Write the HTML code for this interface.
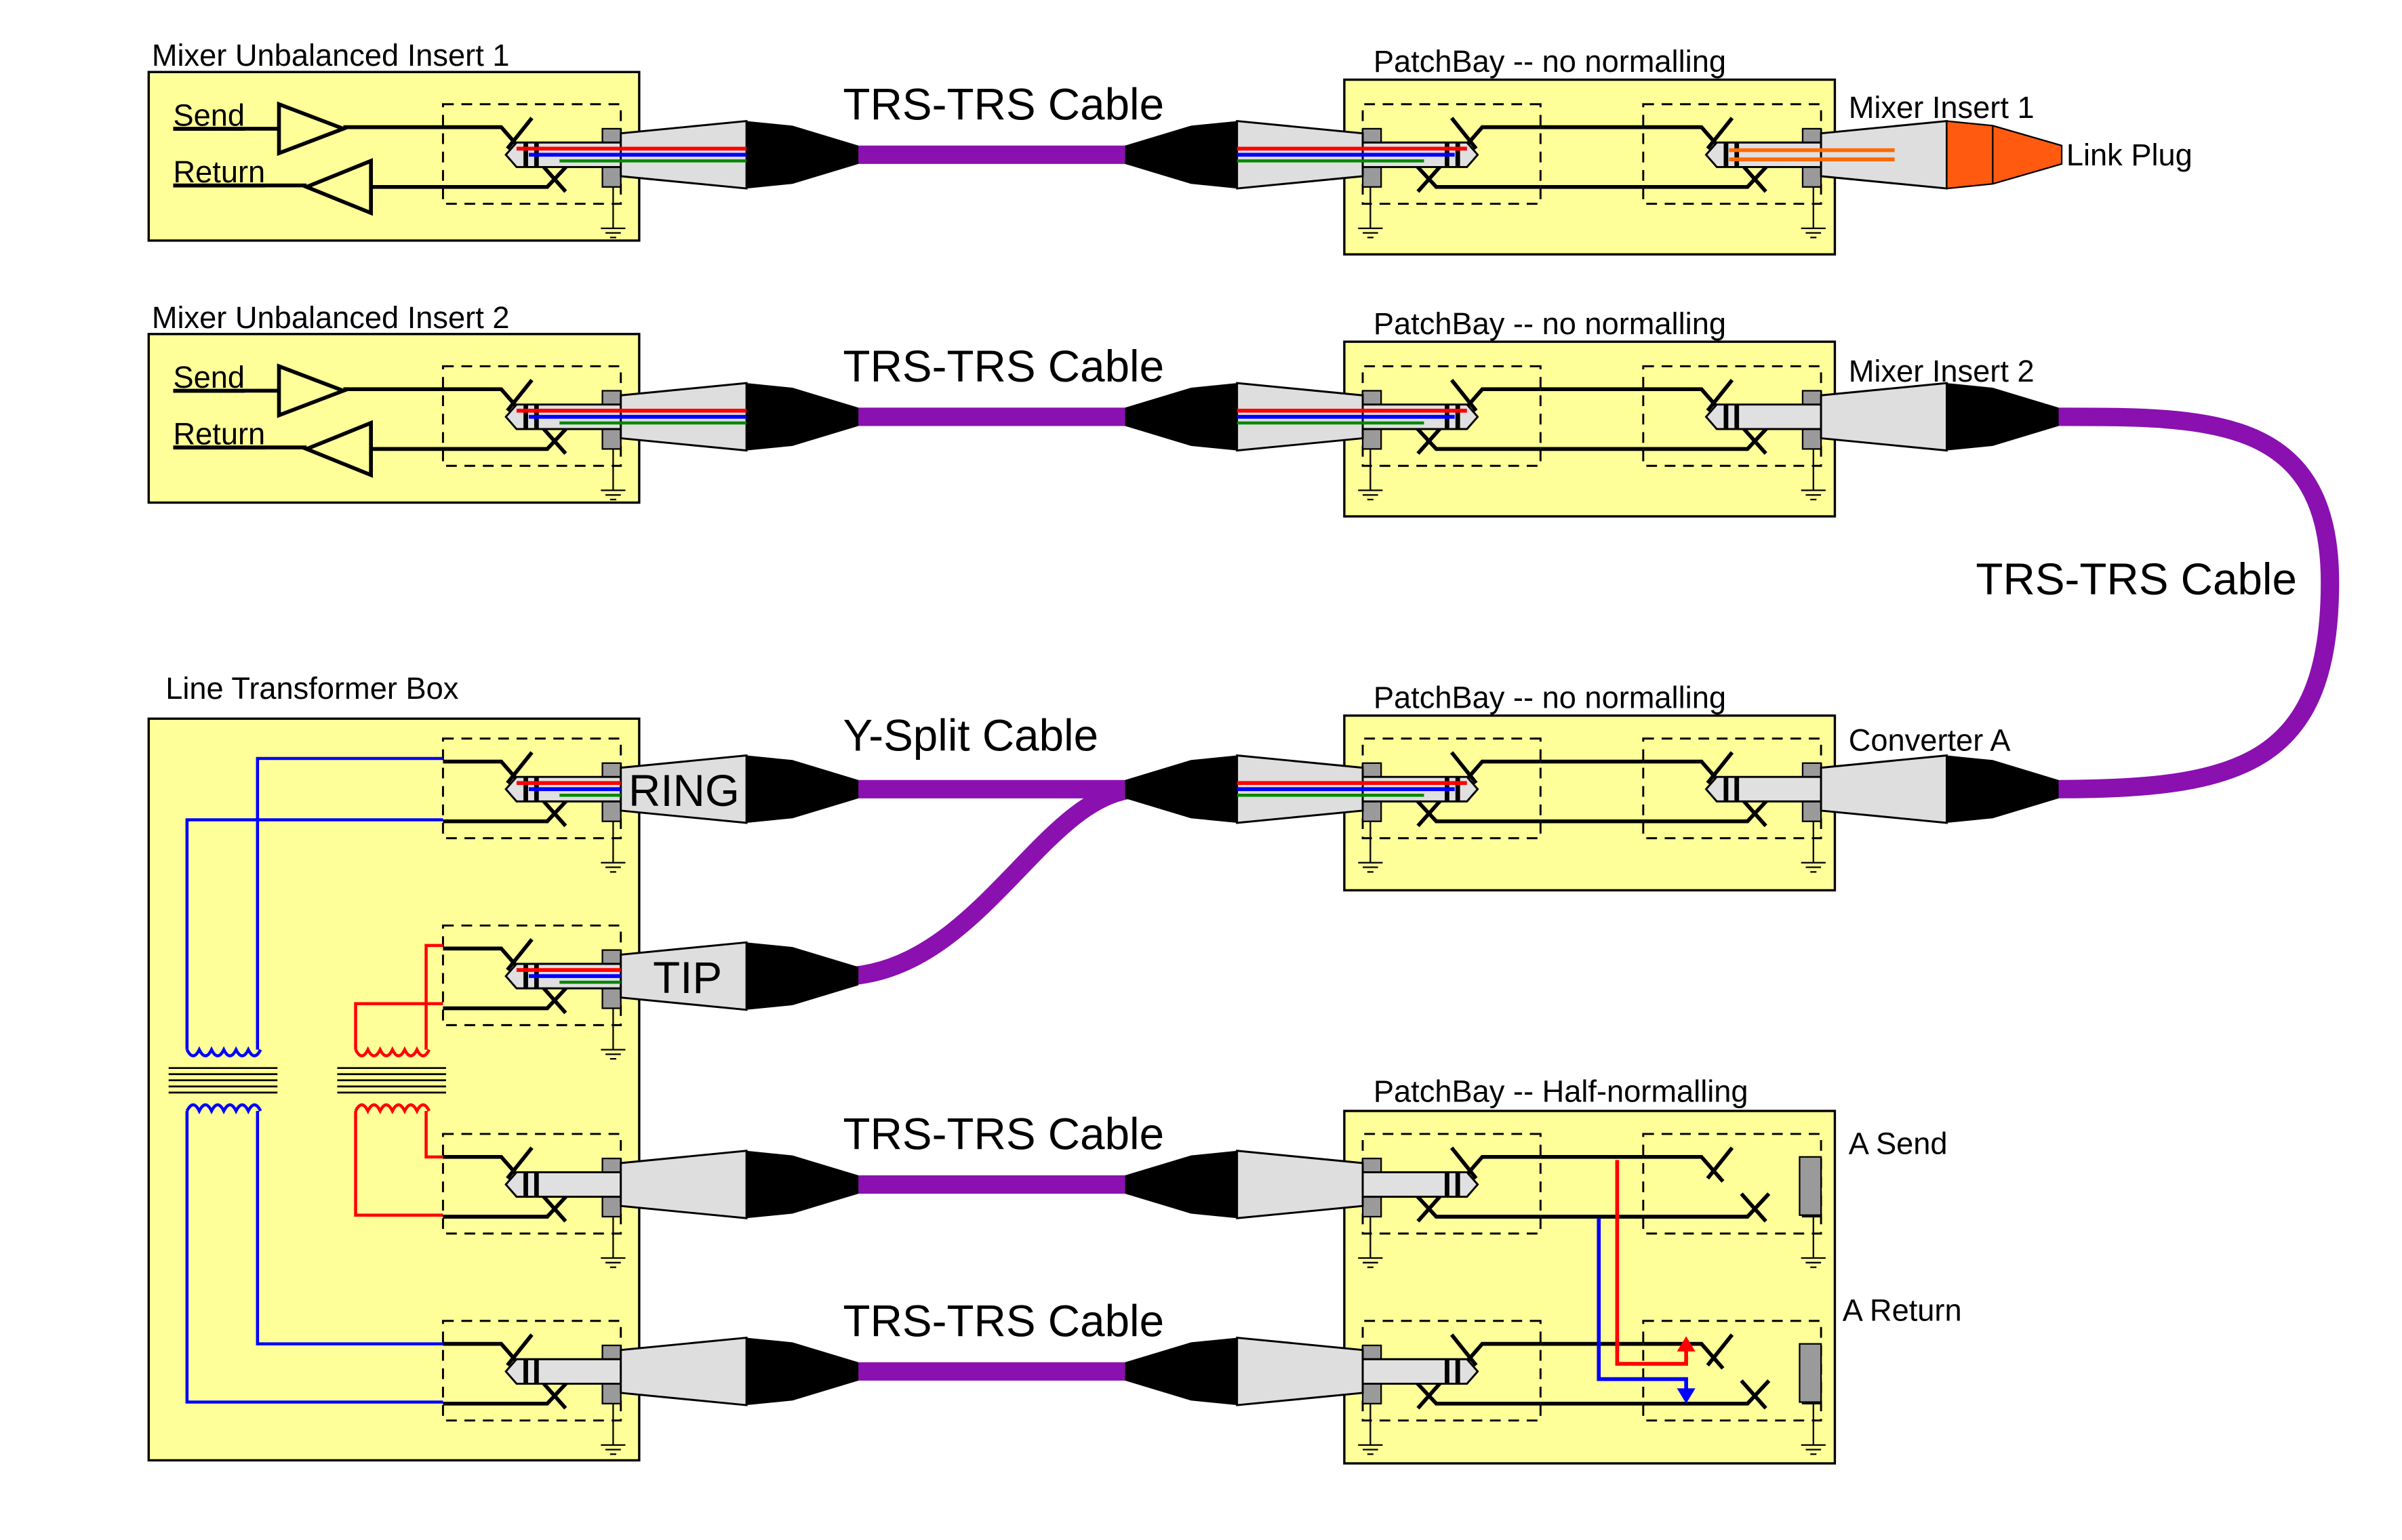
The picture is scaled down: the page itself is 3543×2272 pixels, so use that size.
<!DOCTYPE html>
<html><head><meta charset="utf-8"><style>
html,body{margin:0;padding:0;background:#fff;}
svg{display:block;}
text{font-family:"Liberation Sans",sans-serif;fill:#000;}
</style></head><body>
<svg width="3543" height="2272" viewBox="0 0 1567 1005" preserveAspectRatio="none" xmlns="http://www.w3.org/2000/svg">
<defs>
<g id="jack">
  <rect x="-116" y="-33" width="116" height="65" fill="none" stroke="#000" stroke-width="1.3" stroke-dasharray="7,5"/>
  <path d="M-116,-18 H-78 L-64,-2 M-58,-24 L-74,-4" fill="none" stroke="#000" stroke-width="2.5"/>
  <path d="M-116,21 H-48 L-34,6 M-52,6 L-36,24" fill="none" stroke="#000" stroke-width="2.5"/>
  <rect x="-12" y="-17" width="12" height="12" fill="#9a9a9a" stroke="#000" stroke-width="1"/>
  <rect x="-12" y="5" width="12" height="16" fill="#9a9a9a" stroke="#000" stroke-width="1"/>
  <path d="M-5,21 V48 M-13,48 H3 M-10,51 H0 M-7,54 H-3" stroke="#000" stroke-width="1" fill="none"/>
</g>
<g id="barrel">
  <path d="M-75,0 L-68,-8 H0 V8 H-68 Z" fill="#e0e0e0" stroke="#000" stroke-width="1.3"/>
  <path d="M-62,-8 V8 M-55,-8 V8" stroke="#000" stroke-width="3"/>
</g>
<g id="body">
  <polygon points="0,-14 82,-22 82,22 0,14" fill="#dedede" stroke="#000" stroke-width="1.3"/>
</g>
<g id="boot">
  <polygon points="82,-22 112,-19 155,-6 155,6 112,19 82,22" fill="#000"/>
</g>
<g id="plug"><use href="#barrel"/><use href="#body"/><use href="#boot"/></g>
<g id="colors">
  <path d="M-68,-4 H82" stroke="#f00" stroke-width="2.5"/>
  <path d="M-60,0 H82" stroke="#00f" stroke-width="2.5"/>
  <path d="M-40,4 H82" stroke="#080" stroke-width="2"/>
</g>
<g id="colorsShort">
  <path d="M-68,-4 H0" stroke="#f00" stroke-width="2.5"/>
  <path d="M-60,0 H0" stroke="#00f" stroke-width="2.5"/>
  <path d="M-40,4 H0" stroke="#080" stroke-width="2"/>
</g>
<g id="pb">
  <rect x="0" y="0" width="320" height="114" fill="#ffff99" stroke="#000" stroke-width="1.5"/>
</g>
</defs>
<rect width="1567" height="1005" fill="#fff"/>

<rect x="97" y="47" width="320" height="110" fill="#ffff99" stroke="#000" stroke-width="1.5"/>
<rect x="97" y="218" width="320" height="110" fill="#ffff99" stroke="#000" stroke-width="1.5"/>
<rect x="97" y="469" width="320" height="484" fill="#ffff99" stroke="#000" stroke-width="1.5"/>
<text x="99" y="43" font-size="20">Mixer Unbalanced Insert 1</text>
<text x="99" y="214" font-size="20">Mixer Unbalanced Insert 2</text>
<text x="108" y="456" font-size="20">Line Transformer Box</text>

<g id="sr">
<text x="113" y="82" font-size="20" text-decoration="underline">Send</text>
<text x="113" y="119" font-size="20" text-decoration="underline">Return</text>
<path d="M113,84 H182 M182,68 L224,84 L182,100 Z M224,83 H289" fill="none" stroke="#000" stroke-width="2.5"/>
<path d="M113,121 H200 M200,122 L242,105 L242,139 Z M242,122 H289" fill="none" stroke="#000" stroke-width="2.5"/>
</g>
<use href="#sr" transform="translate(0,171)"/>

<use href="#jack" transform="translate(405,101)"/>
<use href="#jack" transform="translate(405,272)"/>
<use href="#jack" transform="translate(405,515)"/>
<use href="#jack" transform="translate(405,637)"/>
<use href="#jack" transform="translate(405,773)"/>
<use href="#jack" transform="translate(405,895)"/>

<path d="M289,495 H168 V685 M289,535 H122 V685" fill="none" stroke="#00f" stroke-width="2"/>
<path d="M122,685 q4,8 8,0 q4,8 8,0 q4,8 8,0 q4,8 8,0 q4,8 8,0 q4,8 8,0" fill="none" stroke="#00f" stroke-width="2"/>
<path d="M122,725 q4,-8 8,0 q4,-8 8,0 q4,-8 8,0 q4,-8 8,0 q4,-8 8,0 q4,-8 8,0" fill="none" stroke="#00f" stroke-width="2"/>
<path d="M168,725 V877 H289 M122,725 V915 H289" fill="none" stroke="#00f" stroke-width="2"/>
<path d="M110,697 H181 M110,701 H181 M110,705 H181 M110,709 H181 M110,713 H181" stroke="#000" stroke-width="1.2"/>
<path d="M289,617 H278 V685 M289,655 H232 V685" fill="none" stroke="#f00" stroke-width="2"/>
<path d="M232,685 q4,8 8,0 q4,8 8,0 q4,8 8,0 q4,8 8,0 q4,8 8,0 q4,8 8,0" fill="none" stroke="#f00" stroke-width="2"/>
<path d="M232,725 q4,-8 8,0 q4,-8 8,0 q4,-8 8,0 q4,-8 8,0 q4,-8 8,0 q4,-8 8,0" fill="none" stroke="#f00" stroke-width="2"/>
<path d="M278,725 V755 H289 M232,725 V793 H289" fill="none" stroke="#f00" stroke-width="2"/>
<path d="M220,697 H291 M220,701 H291 M220,705 H291 M220,709 H291 M220,713 H291" stroke="#000" stroke-width="1.2"/>

<use href="#pb" transform="translate(877,52)"/>
<use href="#pb" transform="translate(877,223)"/>
<use href="#pb" transform="translate(877,467)"/>
<rect x="877" y="725" width="320" height="230" fill="#ffff99" stroke="#000" stroke-width="1.5"/>
<text x="896" y="47" font-size="20">PatchBay -- no normalling</text>
<text x="896" y="218" font-size="20">PatchBay -- no normalling</text>
<text x="896" y="462" font-size="20">PatchBay -- no normalling</text>
<text x="896" y="719" font-size="20">PatchBay -- Half-normalling</text>

<g id="pbj">
<use href="#jack" transform="translate(889,101) scale(-1,1)"/>
<use href="#jack" transform="translate(1188,101)"/>
<path d="M1005,83 H1072 M1005,122 H1072" stroke="#000" stroke-width="2.5"/>
</g>
<use href="#pbj" transform="translate(0,171)"/>
<use href="#pbj" transform="translate(0,414)"/>
<use href="#pbj" transform="translate(0,672)"/>
<use href="#pbj" transform="translate(0,794)"/>
<rect x="1174" y="755" width="14" height="38" fill="#9a9a9a" stroke="#000"/>
<rect x="1174" y="877" width="14" height="38" fill="#9a9a9a" stroke="#000"/>
<text x="1206" y="753" font-size="20">A Send</text>
<text x="1202" y="862" font-size="20">A Return</text>
<path d="M1055,757 V890 H1100 V880" fill="none" stroke="#f00" stroke-width="2.5"/>
<polygon points="1094,882 1106,882 1100,872" fill="#f00"/>
<path d="M1043,795 V900 H1100 V908" fill="none" stroke="#00f" stroke-width="2.5"/>
<polygon points="1094,906 1106,906 1100,916" fill="#00f"/>

<path d="M555,101 H740 M555,272 H740 M555,515 H740 M555,773 H740 M555,895 H740" stroke="#8a10b0" stroke-width="12"/>
<path d="M555,637 C640,630 680,520 740,515" fill="none" stroke="#8a10b0" stroke-width="12"/>
<path d="M1340,272 C1440,272 1520,270 1520,380 C1520,500 1460,515 1340,515" fill="none" stroke="#8a10b0" stroke-width="12"/>

<use href="#plug" transform="translate(405,101)"/><use href="#colors" transform="translate(405,101)"/>
<use href="#plug" transform="translate(405,272)"/><use href="#colors" transform="translate(405,272)"/>
<use href="#plug" transform="translate(405,515)"/><use href="#colorsShort" transform="translate(405,515)"/>
<use href="#plug" transform="translate(405,637)"/><use href="#colorsShort" transform="translate(405,637)"/>
<use href="#plug" transform="translate(405,773)"/>
<use href="#plug" transform="translate(405,895)"/>
<use href="#plug" transform="translate(889,101) scale(-1,1)"/><use href="#colors" transform="translate(889,101) scale(-1,1)"/>
<use href="#plug" transform="translate(889,272) scale(-1,1)"/><use href="#colors" transform="translate(889,272) scale(-1,1)"/>
<use href="#plug" transform="translate(889,515) scale(-1,1)"/><use href="#colors" transform="translate(889,515) scale(-1,1)"/>
<use href="#plug" transform="translate(889,773) scale(-1,1)"/>
<use href="#plug" transform="translate(889,895) scale(-1,1)"/>
<use href="#barrel" transform="translate(1188,101)"/><use href="#body" transform="translate(1188,101)"/>
<polygon points="1270,79 1300,82 1345,95 1345,107 1300,120 1270,123" fill="#ff5a10" stroke="#000" stroke-width="1"/>
<path d="M1300,82 V120" stroke="#000" stroke-width="1"/>
<path d="M1128,98 H1236 M1128,104 H1236" stroke="#ff6a00" stroke-width="2.5"/>
<use href="#plug" transform="translate(1188,272)"/>
<use href="#plug" transform="translate(1188,515)"/>

<text x="410" y="526" font-size="29">RING</text>
<text x="426" y="648" font-size="29">TIP</text>

<text x="1206" y="77" font-size="20">Mixer Insert 1</text>
<text x="1348" y="108" font-size="20">Link Plug</text>
<text x="1206" y="249" font-size="20">Mixer Insert 2</text>
<text x="1206" y="490" font-size="20">Converter A</text>

<text x="550" y="78" font-size="29">TRS-TRS Cable</text>
<text x="550" y="249" font-size="29">TRS-TRS Cable</text>
<text x="550" y="490" font-size="29">Y-Split Cable</text>
<text x="550" y="750" font-size="29">TRS-TRS Cable</text>
<text x="550" y="872" font-size="29">TRS-TRS Cable</text>
<text x="1289" y="388" font-size="29">TRS-TRS Cable</text>
</svg>
</body></html>
